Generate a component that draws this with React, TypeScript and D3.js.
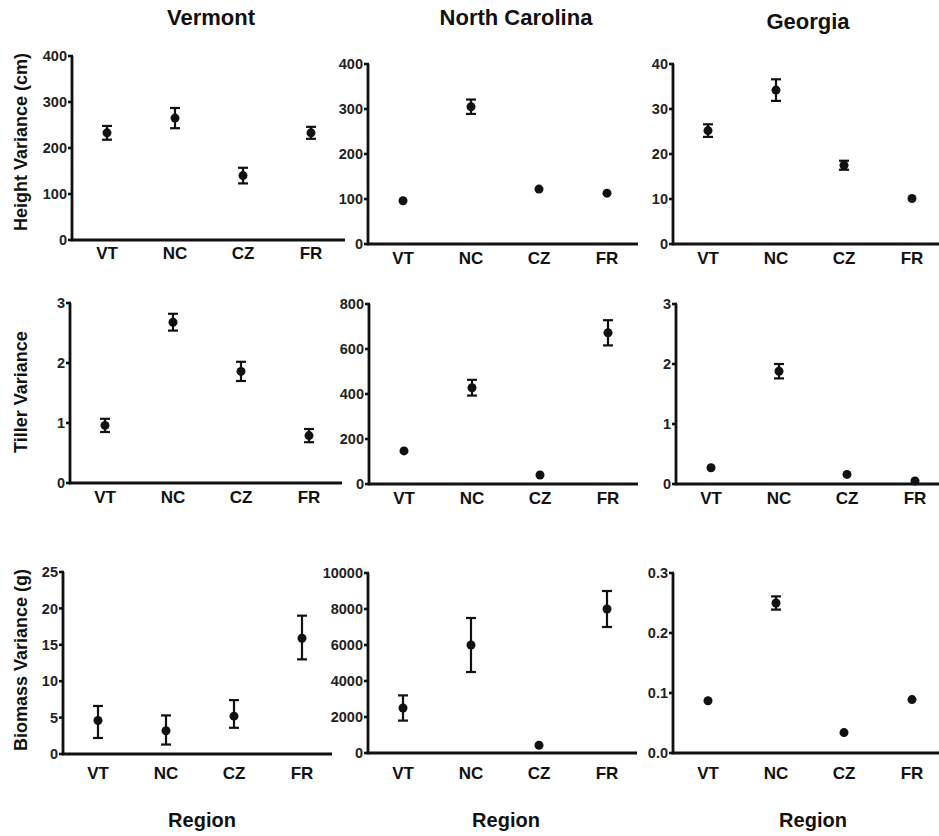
import * as d3 from 'd3';

// Categories and panel labels
const regions = ['VT', 'NC', 'CZ', 'FR'];
const states = ['Vermont', 'North Carolina', 'Georgia'];
const traits = ['Height Variance (cm)', 'Tiller Variance', 'Biomass Variance (g)'];

// Height variance (cm)
const heightVT = [233, 265, 140, 233];
const heightVTErr = [15, 22, 17, 13];
const heightNC = [96, 305, 122, 113];
const heightNCErr = [0, 16, 0, 0];
const heightGA = [25.2, 34.2, 17.5, 10.1];
const heightGAErr = [1.4, 2.4, 1.0, 0];

// Tiller variance
const tillerVT = [0.96, 2.68, 1.86, 0.79];
const tillerVTErr = [0.11, 0.14, 0.16, 0.11];
const tillerNC = [147, 428, 40, 672];
const tillerNCErr = [0, 35, 0, 56];
const tillerGA = [0.27, 1.88, 0.16, 0.05];
const tillerGAErr = [0, 0.12, 0, 0];

// Biomass variance (g)
const biomassVT = [4.6, 3.2, 5.2, 15.9];
const biomassVTErrUp = [2.0, 2.1, 2.2, 3.1];
const biomassVTErrDown = [2.4, 1.9, 1.6, 2.9];
const biomassNC = [2500, 6000, 430, 8000];
const biomassNCErr = [700, 1500, 0, 1000];
const biomassGA = [0.087, 0.25, 0.034, 0.089];
const biomassGAErr = [0, 0.011, 0, 0];

// Tick values
const ticksHeight400 = [0, 100, 200, 300, 400];
const ticksHeight40 = [0, 10, 20, 30, 40];
const ticksTiller3 = [0, 1, 2, 3];
const ticksTiller800 = [0, 200, 400, 600, 800];
const ticksBiomass25 = [0, 5, 10, 15, 20, 25];
const ticksBiomass10k = [0, 2000, 4000, 6000, 8000, 10000];
const ticksBiomass03 = [0, 0.1, 0.2, 0.3];

type Panel = {
  values: number[];
  errUp: number[];
  errDown: number[];
  ticks: number[];
  fmt: string;
  box: [number, number, number, number]; // x0, x1, y0, y1
  labelDy: number;
};

const FONT = "'Liberation Sans', Arial, Helvetica, sans-serif";

const panels: Panel[][] = [
  [
    { values: heightVT, errUp: heightVTErr, errDown: heightVTErr, ticks: ticksHeight400, fmt: 'd', box: [72, 345, 56, 240], labelDy: 19 },
    { values: heightNC, errUp: heightNCErr, errDown: heightNCErr, ticks: ticksHeight400, fmt: 'd', box: [368, 638, 64, 244], labelDy: 20 },
    { values: heightGA, errUp: heightGAErr, errDown: heightGAErr, ticks: ticksHeight40, fmt: 'd', box: [673, 939, 64, 244], labelDy: 20 },
  ],
  [
    { values: tillerVT, errUp: tillerVTErr, errDown: tillerVTErr, ticks: ticksTiller3, fmt: 'd', box: [70, 342, 303, 483], labelDy: 20 },
    { values: tillerNC, errUp: tillerNCErr, errDown: tillerNCErr, ticks: ticksTiller800, fmt: 'd', box: [369, 638, 304, 484], labelDy: 20 },
    { values: tillerGA, errUp: tillerGAErr, errDown: tillerGAErr, ticks: ticksTiller3, fmt: 'd', box: [676, 939, 304, 484], labelDy: 20 },
  ],
  [
    { values: biomassVT, errUp: biomassVTErrUp, errDown: biomassVTErrDown, ticks: ticksBiomass25, fmt: 'd', box: [63, 332, 572, 754], labelDy: 25 },
    { values: biomassNC, errUp: biomassNCErr, errDown: biomassNCErr, ticks: ticksBiomass10k, fmt: 'd', box: [368, 637, 573, 753], labelDy: 26 },
    { values: biomassGA, errUp: biomassGAErr, errDown: biomassGAErr, ticks: ticksBiomass03, fmt: '.1f', box: [673, 939, 573, 753], labelDy: 26 },
  ],
];

const titleX = [211, 516, 808];
const titleY = [25, 25, 29];
const regionX = [202, 506, 813];
const traitY = [142, 392, 660];

function ScatterPanel({ p }: { p: Panel }) {
  const [x0, x1, y0, y1] = p.box;
  const y = d3.scaleLinear().domain([0, d3.max(p.ticks) as number]).range([y1, y0]);
  const x = d3.scalePoint().domain(regions).range([x0 + 35, x0 + 239]);
  const fmt = d3.format(p.fmt);

  return (
    <g>
      {/* axes */}
      <path d={`M${x0},${y0} V${y1} H${x1}`} fill="none" stroke="#111" strokeWidth={2.8} />
      {p.ticks.map((t) => (
        <g key={t}>
          <line x1={x0 - 4} x2={x0 + 1} y1={y(t)} y2={y(t)} stroke="#111" strokeWidth={2.6} />
          <text x={x0 - 5} y={y(t)} dy="0.36em" textAnchor="end" fontSize={14.5} fontWeight="bold" fill="#222">
            {fmt(t)}
          </text>
        </g>
      ))}
      {regions.map((r) => (
        <text key={r} x={x(r)} y={y1 + p.labelDy} textAnchor="middle" fontSize={17} fontWeight="bold" fill="#111">
          {r}
        </text>
      ))}
      {/* error bars and points */}
      {p.values.map((v, i) => {
        const cx = x(regions[i]) as number;
        const up = p.errUp[i];
        const down = p.errDown[i];
        return (
          <g key={i}>
            {up > 0 && (
              <g stroke="#111" strokeWidth={2.2}>
                <line x1={cx} x2={cx} y1={y(v + up)} y2={y(v - down)} />
                <line x1={cx - 5} x2={cx + 5} y1={y(v + up)} y2={y(v + up)} />
                <line x1={cx - 5} x2={cx + 5} y1={y(v - down)} y2={y(v - down)} />
              </g>
            )}
            <circle cx={cx} cy={y(v)} r={4.5} fill="#111" />
          </g>
        );
      })}
    </g>
  );
}

export default function App() {
  return (
    <svg
      width={939}
      height={836}
      viewBox="0 0 939 836"
      style={{ position: 'absolute', left: 0, top: 0, background: '#fff' }}
      fontFamily={FONT}
    >
      {states.map((s, i) => (
        <text key={s} x={titleX[i]} y={titleY[i]} textAnchor="middle" fontSize={22} fontWeight="bold" fill="#111">
          {s}
        </text>
      ))}
      {traits.map((t, i) => (
        <text
          key={t}
          transform={`translate(27,${traitY[i]}) rotate(-90)`}
          textAnchor="middle"
          fontSize={18}
          fontWeight="bold"
          fill="#111"
        >
          {t}
        </text>
      ))}
      {panels.map((row, ri) => row.map((p, ci) => <ScatterPanel key={`${ri}-${ci}`} p={p} />))}
      {regionX.map((rx, i) => (
        <text key={i} x={rx} y={827} textAnchor="middle" fontSize={20} fontWeight="bold" fill="#111">
          Region
        </text>
      ))}
    </svg>
  );
}
